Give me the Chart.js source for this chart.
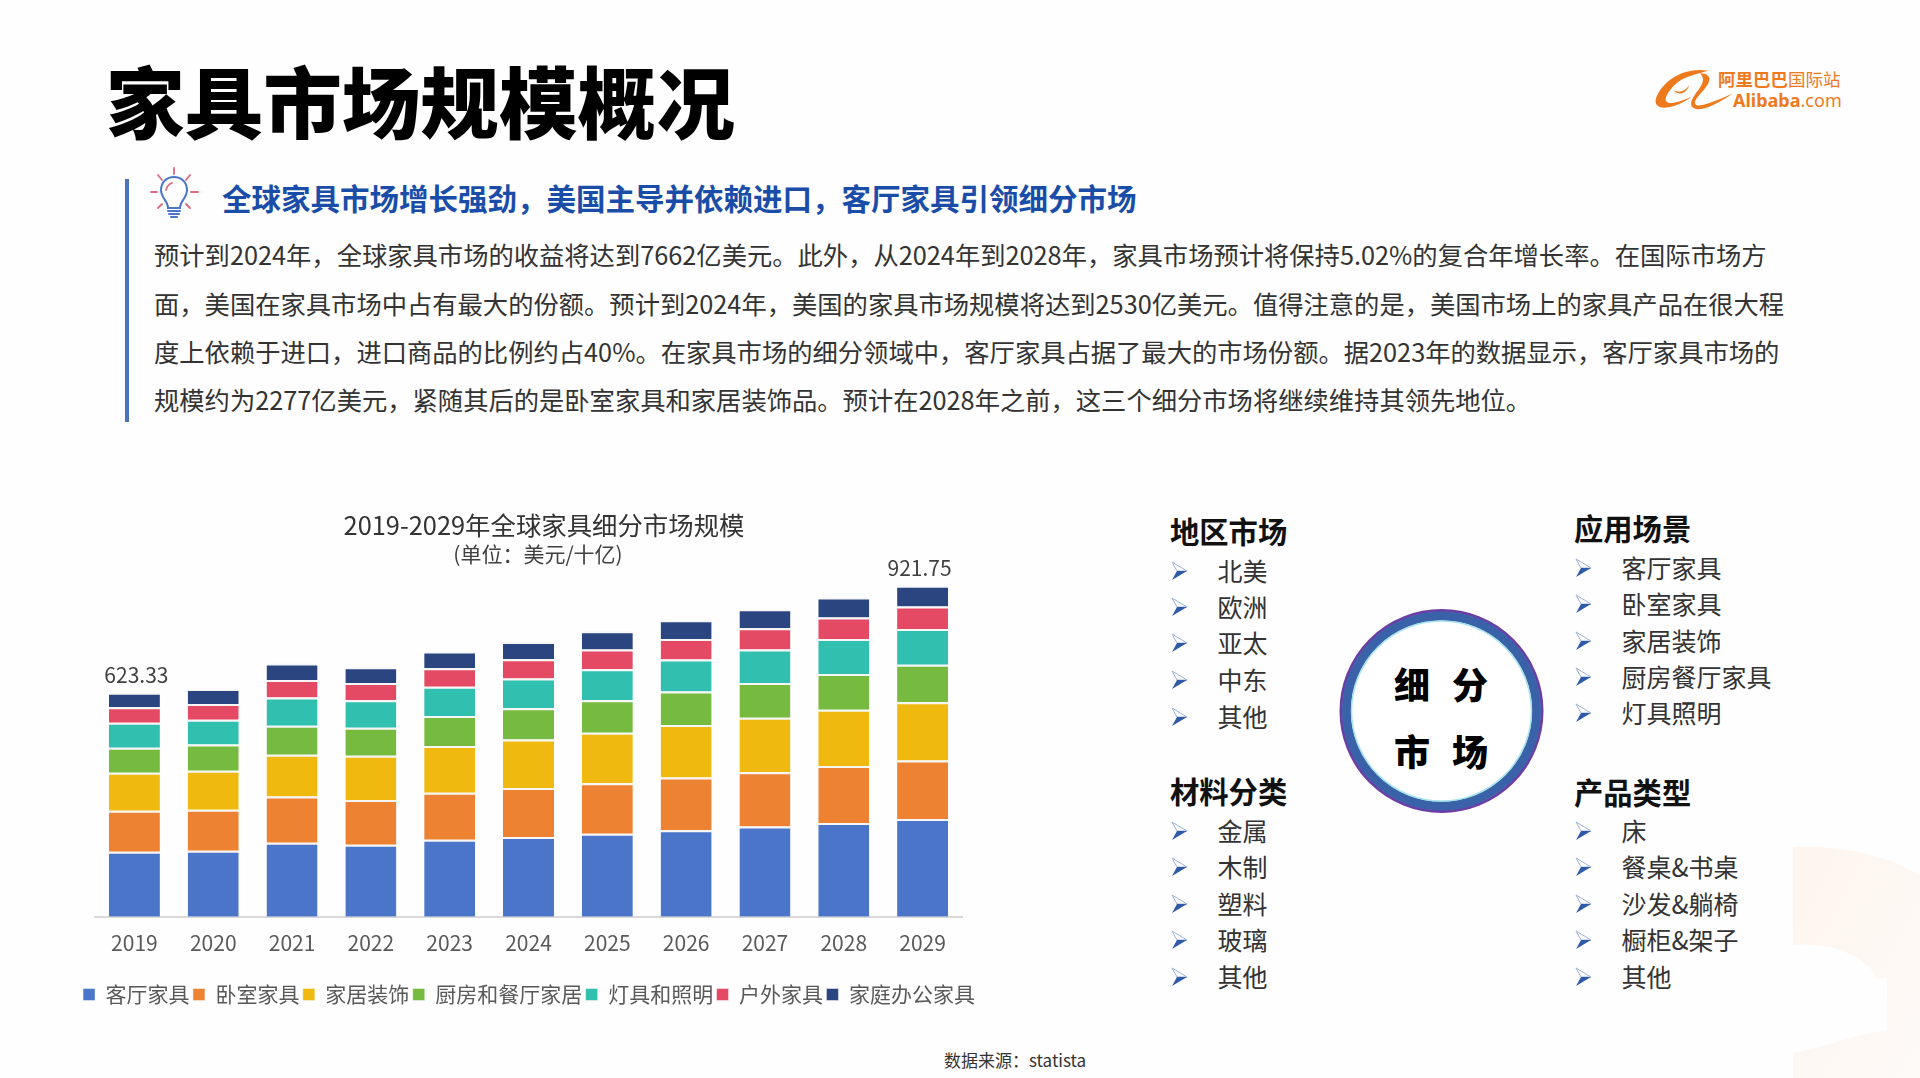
<!DOCTYPE html>
<html lang="zh-CN">
<head>
<meta charset="utf-8">
<title>家具市场规模概况</title>
<script src="https://cdn.jsdelivr.net/npm/chart.js@4"></script>
<style>
html, body { margin: 0; padding: 0; background: #fefefe; }
body { width: 1920px; height: 1078px; position: relative; overflow: hidden; font-family: "Noto Sans CJK SC", "Noto Sans", sans-serif; color: #262626; }
.abs { position: absolute; white-space: nowrap; }
.mid { transform: translateY(-50%); line-height: 1; }
#pageTitle { left: 106px; top: 99px; font-size: 78.6px; font-weight: 900; color: #000; }
#accent { left: 125px; top: 179px; width: 4px; height: 243px; background: #4a76b8; }
#headline { left: 222px; top: 197.5px; font-size: 29.5px; font-weight: 700; color: #1a4da8; }
.body-line { font-size: 25.3px; color: #333; left: 154px; text-align: justify; text-align-last: justify; }
.list-head { font-size: 29.3px; font-weight: 700; color: #111; }
.list-item { font-size: 25px; color: #333; }
.ring-text { font-size: 36px; font-weight: 900; color: #000; }
#source { left: 944px; top: 1059px; font-size: 17px; color: #333; }
#logoCn { left: 1718px; top: 79px; font-size: 17.5px; color: #ee7a1e; font-weight: 700; }
#logoCn span { font-weight: 400; }
#logoEn { left: 1733px; top: 100px; font-size: 18px; color: #ee7a1e; font-family: "Noto Sans", sans-serif; font-weight: 700; }
#logoEn span { font-weight: 400; }
canvas { position: absolute; left: 60px; top: 510px; }
</style>
</head>
<body>

<!-- 右下角淡色装饰 -->
<svg class="abs" style="left:0;top:0" width="1920" height="1078">
  <defs>
    <linearGradient id="cornerFade" x1="0" y1="0" x2="1" y2="1">
      <stop offset="0" stop-color="#fdf5ef"/>
      <stop offset="1" stop-color="#fefaf7"/>
    </linearGradient>
  </defs>
  <path d="M1793 847 C1840 845 1885 855 1920 875 L1920 1078 L1793 1078 L1793 1053 C1825 1048 1850 1035 1887 1030 L1887 978 L1877 978 C1865 955 1830 942 1793 945 Z" fill="url(#cornerFade)"/>
</svg>

<div id="pageTitle" class="abs mid">家具市场规模概况</div>

<svg class="abs" style="left:1620px;top:50px" width="240" height="80" viewBox="0 0 720 240">
  <g fill="#ee7a1e">
    <path d="M265 62 C200 50 130 85 108 145 C100 175 130 180 170 165 C185 160 200 150 215 140 C180 155 150 165 140 155 C130 145 150 115 175 95 C195 80 235 70 265 62 Z"/>
    <path d="M240 70 C262 70 275 80 265 100 C255 120 230 140 225 155 C222 175 250 170 340 130 C280 170 240 185 222 175 C205 165 215 145 235 120 C250 100 255 85 240 70 Z"/>
    <path d="M160 120 C175 130 195 125 208 105 C200 130 175 140 160 120 Z"/>
  </g>
</svg>
<div id="logoCn" class="abs mid">阿里巴巴<span>国际站</span></div>
<div id="logoEn" class="abs mid">Alibaba<span>.com</span></div>

<div id="accent" class="abs"></div>
<svg class="abs" style="left:145px;top:165px" width="60" height="60" viewBox="0 0 60 60" fill="none" stroke-linecap="round">
  <g stroke="#dc6b7e" stroke-width="1.8">
    <path d="M29 3 V9 M13 10 L17 15 M45 10 L41 15 M6 27 H12 M46 27 H53 M13 43 L17 39 M45 43 L41 39"/>
    <path d="M21 25 C22 21 24 19 27 18"/>
  </g>
  <g stroke="#4a76c8" stroke-width="2">
    <path d="M23 43 C23 36 16 33 16 25 C16 17 22 12 29 12 C36 12 42 17 42 25 C42 33 35 36 35 43 Z"/>
    <path d="M23 46 H35 M24 49 H34 M26 52 H32"/>
  </g>
</svg>
<div id="headline" class="abs mid">全球家具市场增长强劲，美国主导并依赖进口，客厅家具引领细分市场</div>

<div class="abs mid body-line" style="top:255px;width:1605px">预计到2024年，全球家具市场的收益将达到7662亿美元。此外，从2024年到2028年，家具市场预计将保持5.02%的复合年增长率。在国际市场方</div>
<div class="abs mid body-line" style="top:304px;width:1622px">面，美国在家具市场中占有最大的份额。预计到2024年，美国的家具市场规模将达到2530亿美元。值得注意的是，美国市场上的家具产品在很大程</div>
<div class="abs mid body-line" style="top:352px;width:1617px">度上依赖于进口，进口商品的比例约占40%。在家具市场的细分领域中，客厅家具占据了最大的市场份额。据2023年的数据显示，客厅家具市场的</div>
<div class="abs mid body-line" style="top:400px;width:1358px">规模约为2277亿美元，紧随其后的是卧室家具和家居装饰品。预计在2028年之前，这三个细分市场将继续维持其领先地位。</div>

<canvas id="marketChart" width="938" height="505" style="width:938px;height:505px"></canvas>

<!-- 中间的圆环 -->
<svg class="abs" style="left:1330px;top:600px" width="224" height="224">
  <circle cx="111.5" cy="111" r="100.5" fill="#fff" stroke="#6a3fa5" stroke-width="3"/>
  <circle cx="111.5" cy="111" r="95" fill="none" stroke="#3a62a8" stroke-width="9"/>
  <circle cx="111.5" cy="111" r="90" fill="none" stroke="#a5e4ea" stroke-width="1.5"/>
</svg>
<div class="abs mid ring-text" style="left:1394px;top:682.5px">细</div>
<div class="abs mid ring-text" style="left:1452px;top:682.5px">分</div>
<div class="abs mid ring-text" style="left:1394px;top:750px">市</div>
<div class="abs mid ring-text" style="left:1452px;top:750px">场</div>

<div id="lists"></div>

<div id="source" class="abs mid">数据来源：statista</div>

<script>
// 年份
const years = ['2019', '2020', '2021', '2022', '2023', '2024', '2025', '2026', '2027', '2028', '2029'];

// 各细分市场规模 (十亿美元)
const livingRoom = [180.6, 183.4, 205.9, 200.3, 214.3, 221.8, 231.1, 240.5, 250.8, 261.1, 272.3];
const bedroom = [114.2, 114.2, 129.1, 124.5, 131.0, 136.6, 140.4, 146.9, 151.6, 158.2, 162.8];
const decor = [105.7, 108.6, 116.0, 123.5, 130.1, 134.8, 140.4, 146.0, 151.6, 157.2, 161.9];
const kitchen = [70.2, 73.0, 80.5, 77.7, 83.3, 87.0, 90.8, 93.6, 96.4, 99.2, 104.8];
const lighting = [69.3, 69.3, 78.6, 76.7, 81.4, 83.3, 86.1, 88.9, 93.6, 97.3, 99.2];
const outdoor = [43.3, 44.0, 48.7, 47.7, 51.5, 53.3, 55.2, 57.1, 59.0, 59.9, 62.7];
const homeOffice = [40.03, 41.2, 45.9, 44.0, 46.8, 47.7, 50.5, 52.4, 53.3, 56.1, 58.05];

// 只标注首尾两年的合计
const totalLabels = [623.33, null, null, null, null, null, null, null, null, null, 921.75];

const seriesNames = ['客厅家具', '卧室家具', '家居装饰', '厨房和餐厅家居', '灯具和照明', '户外家具', '家庭办公家具'];
const seriesValues = [livingRoom, bedroom, decor, kitchen, lighting, outdoor, homeOffice];
const seriesColors = ['#4a75c9', '#ed8232', '#f0b90f', '#76bb40', '#31bfb0', '#e54a64', '#2b4581'];

// 右侧分类清单
const regionItems = ['北美', '欧洲', '亚太', '中东', '其他'];
const sceneItems = ['客厅家具', '卧室家具', '家居装饰', '厨房餐厅家具', '灯具照明'];
const materialItems = ['金属', '木制', '塑料', '玻璃', '其他'];
const productItems = ['床', '餐桌&书桌', '沙发&躺椅', '橱柜&架子', '其他'];

const fontFamily = '"Noto Sans CJK SC", "Noto Sans", sans-serif';

function addList(title, items, x, headY, itemYs) {
    const box = document.getElementById('lists');
    let html = '<div class="abs mid list-head" style="left:' + x + 'px;top:' + headY + 'px">' + title + '</div>';
    items.forEach((item, i) => {
        html += '<svg class="abs" style="left:' + (x + 1) + 'px;top:' + (itemYs[i] - 9) + 'px" width="17" height="20">' +
            '<polygon points="1,1 16,10 6,10" fill="#fff" stroke="#9db3d6" stroke-width="1"/>' +
            '<polygon points="1,19 16,10 6,10" fill="#2f5aa8"/></svg>';
        html += '<div class="abs mid list-item" style="left:' + (x + 47.5) + 'px;top:' + itemYs[i] + 'px">' + item + '</div>';
    });
    box.insertAdjacentHTML('beforeend', html);
}
addList('地区市场', regionItems, 1170, 530.5, [570, 606, 642, 679, 716]);
addList('应用场景', sceneItems, 1574, 528, [567, 603, 640, 676, 712]);
addList('材料分类', materialItems, 1170, 790.5, [830, 866, 903, 939, 975.5]);
addList('产品类型', productItems, 1574, 791.5, [830, 866, 903, 939, 975.5]);

// 柱顶合计数字
const totalLabelPlugin = {
    id: 'totalLabel',
    afterDatasetsDraw(chart) {
        const { ctx, scales } = chart;
        ctx.save();
        ctx.font = '21px ' + fontFamily;
        ctx.fillStyle = '#404040';
        ctx.textAlign = 'center';
        ctx.textBaseline = 'middle';
        totalLabels.forEach((total, i) => {
            if (total === null) return;
            const nudge = i === 0 ? 2 : -3;
            ctx.fillText(total.toFixed(2), scales.x.getPixelForValue(i) + nudge, scales.y.getPixelForValue(total) - 18);
        });
        ctx.restore();
    }
};

// 标题在原图中比图例偏右一点
const titleShiftPlugin = {
    id: 'titleShift',
    afterLayout(chart) {
        chart.boxes.forEach(box => {
            if (box.options && typeof box.options.text === 'string') {
                const shift = box === chart.titleBlock ? 15 : 9;
                box.left += shift;
                box.right += shift;
            }
        });
    }
};

new Chart(document.getElementById('marketChart').getContext('2d'), {
    type: 'bar',
    data: {
        labels: years,
        datasets: seriesNames.map((name, i) => ({
            label: name,
            data: seriesValues[i],
            backgroundColor: seriesColors[i],
            borderColor: '#f6f6f6',
            borderWidth: { top: 2, right: 0, bottom: 0, left: 0 },
            borderSkipped: false,
            categoryPercentage: 1,
            barPercentage: 0.647
        }))
    },
    options: {
        responsive: false,
        animation: false,
        devicePixelRatio: 1,
        layout: { padding: 0 },
        scales: {
            x: {
                stacked: true,
                grid: { display: false, drawTicks: false },
                border: { color: '#d9d9d9', width: 2 },
                ticks: { color: '#595959', padding: 14, font: { size: 21, family: fontFamily } },
                afterFit(scale) { scale.height = 63.9; }
            },
            y: {
                stacked: true,
                min: 0,
                max: 950,
                grid: { display: false },
                border: { display: false },
                ticks: { display: false },
                afterFit(scale) { scale.width = 35; }
            },
            // 右边留白，让图例比坐标轴宽
            yRight: {
                position: 'right',
                display: true,
                grid: { display: false },
                border: { display: false },
                ticks: { display: false },
                afterFit(scale) { scale.width = 36; }
            }
        },
        plugins: {
            legend: {
                position: 'bottom',
                labels: {
                    boxWidth: 12,
                    boxHeight: 12,
                    padding: 3.4,
                    color: '#595959',
                    font: { size: 21, family: fontFamily }
                }
            },
            title: {
                display: true,
                text: '2019-2029年全球家具细分市场规模',
                color: '#333',
                padding: { top: 0, bottom: 0 },
                font: { size: 25.4, weight: 'normal', family: fontFamily, lineHeight: 1.2 }
            },
            subtitle: {
                display: true,
                text: '(单位：美元/十亿)',
                color: '#404040',
                padding: { top: 3, bottom: 11 },
                font: { size: 21, family: fontFamily, lineHeight: 1 }
            },
            tooltip: { enabled: false }
        }
    },
    plugins: [totalLabelPlugin, titleShiftPlugin]
});
</script>
</body>
</html>
